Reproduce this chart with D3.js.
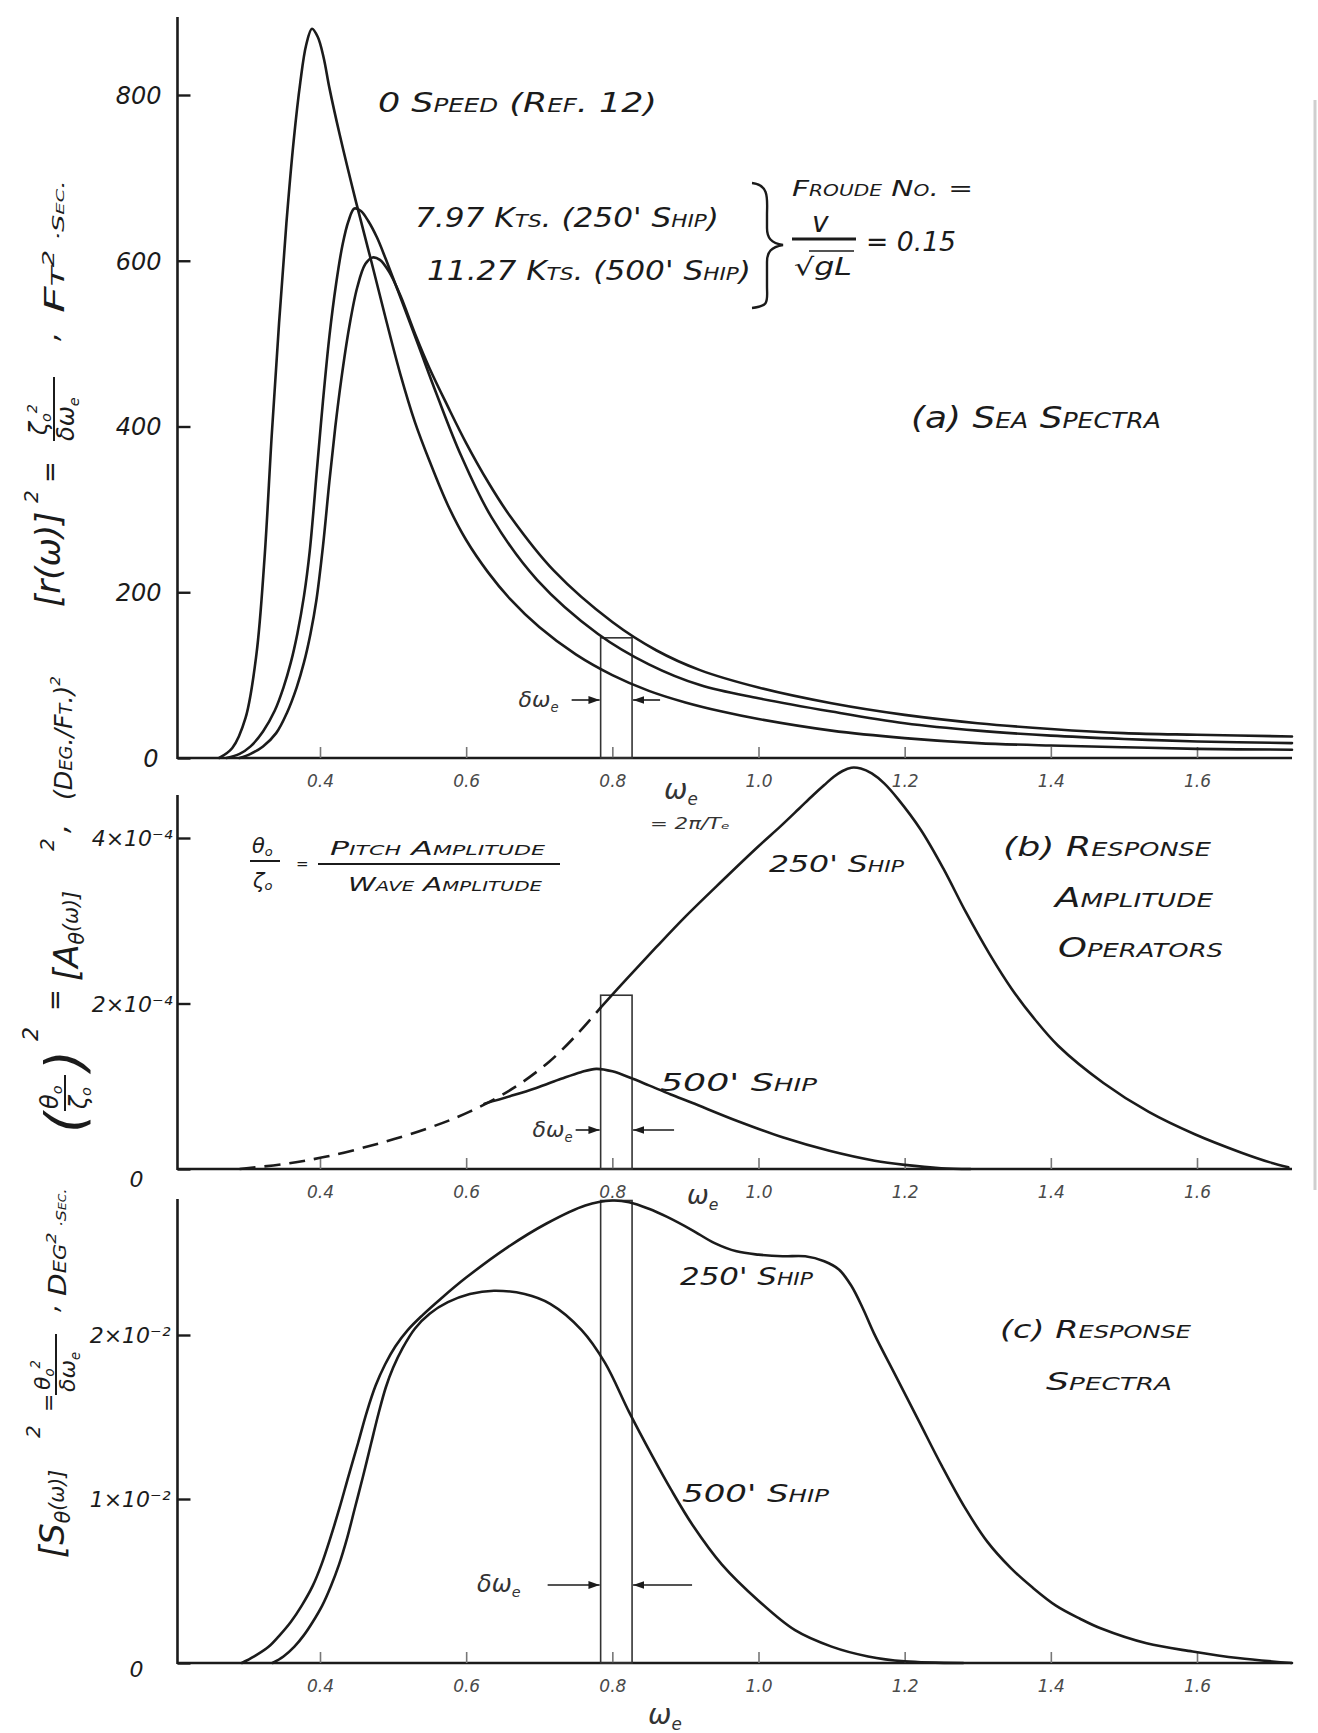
<!DOCTYPE html>
<html>
<head>
<meta charset="utf-8">
<script src="https://cdn.jsdelivr.net/npm/d3@7"></script>
<style>
  body { margin: 0; background: #fff; }
  svg text { font-family: "DejaVu Sans", sans-serif; font-style: italic; }
  .sc { font-variant: small-caps; }
</style>
</head>
<body>
<div id="chart"></div>
<script>
// encounter frequency axis, shared by all three panels
const xTicks = [0.4, 0.6, 0.8, 1.0, 1.2, 1.4, 1.6];
const xTickLabels = ["0.4", "0.6", "0.8", "1.0", "1.2", "1.4", "1.6"];
const deltaBand = [0.784, 0.827];

// (a) sea spectra, ft^2-sec
const seaTicks = [0, 200, 400, 600, 800];
const seaTickLabels = ["0", "200", "400", "600", "800"];
const seaZeroSpeed = [[0.262, 0], [0.28, 12], [0.298, 48], [0.313, 125], [0.324, 240], [0.334, 390], [0.344, 525], [0.354, 645], [0.364, 745], [0.373, 815], [0.381, 860], [0.389, 880], [0.397, 870], [0.405, 845], [0.413, 808], [0.427, 752], [0.449, 672], [0.47, 600], [0.49, 530], [0.51, 463], [0.53, 405], [0.55, 358], [0.575, 305], [0.6, 263], [0.63, 224], [0.66, 192], [0.7, 158], [0.75, 125], [0.8, 100], [0.85, 81], [0.9, 67], [0.95, 56], [1.0, 47], [1.1, 33], [1.2, 24], [1.3, 18], [1.4, 15], [1.5, 13], [1.6, 11], [1.73, 10]];
const sea250 = [[0.272, 0], [0.29, 5], [0.305, 14], [0.322, 32], [0.338, 57], [0.35, 85], [0.36, 115], [0.369, 150], [0.378, 195], [0.386, 250], [0.396, 350], [0.404, 430], [0.413, 510], [0.422, 572], [0.431, 620], [0.439, 648], [0.447, 663], [0.456, 660], [0.466, 648], [0.478, 628], [0.49, 602], [0.51, 556], [0.535, 497], [0.56, 438], [0.593, 365], [0.635, 290], [0.697, 215], [0.78, 150], [0.85, 113], [0.92, 88], [1.0, 72], [1.1, 56], [1.2, 42], [1.3, 33], [1.4, 27], [1.5, 23], [1.6, 20], [1.73, 18]];
const sea500 = [[0.29, 0], [0.305, 5], [0.322, 14], [0.34, 30], [0.355, 55], [0.368, 85], [0.378, 115], [0.387, 150], [0.395, 190], [0.404, 255], [0.413, 335], [0.421, 400], [0.429, 456], [0.44, 520], [0.451, 568], [0.462, 596], [0.472, 604], [0.482, 601], [0.495, 586], [0.51, 558], [0.53, 512], [0.55, 470], [0.575, 424], [0.6, 380], [0.63, 333], [0.66, 292], [0.72, 226], [0.8, 164], [0.86, 130], [0.92, 106], [1.0, 85], [1.1, 66], [1.2, 52], [1.3, 42], [1.4, 35], [1.5, 30], [1.6, 28], [1.73, 26]];
const seaBandTop = 145;

// (b) response amplitude operators, units of 1e-4 (deg/ft)^2
const raoTicks = [0, 2, 4];
const raoTickLabels = ["0", "2×10⁻⁴", "4×10⁻⁴"];
const rao250Dashed = [[0.29, 0], [0.35, 0.06], [0.409, 0.15], [0.481, 0.31], [0.55, 0.5], [0.604, 0.69], [0.665, 0.98], [0.714, 1.3], [0.751, 1.62], [0.784, 1.95]];
const rao250 = [[0.784, 1.95], [0.82, 2.3], [0.86, 2.68], [0.9, 3.05], [0.95, 3.48], [1.0, 3.9], [1.03, 4.14], [1.055, 4.35], [1.075, 4.52], [1.09, 4.64], [1.103, 4.74], [1.115, 4.81], [1.127, 4.85], [1.14, 4.84], [1.155, 4.78], [1.172, 4.66], [1.191, 4.47], [1.222, 4.1], [1.253, 3.63], [1.284, 3.1], [1.316, 2.6], [1.347, 2.17], [1.378, 1.81], [1.41, 1.49], [1.472, 1.04], [1.534, 0.69], [1.597, 0.42], [1.66, 0.2], [1.7, 0.08], [1.725, 0.02]];
const rao500 = [[0.625, 0.79], [0.66, 0.88], [0.696, 0.98], [0.73, 1.09], [0.757, 1.17], [0.778, 1.21], [0.8, 1.18], [0.828, 1.09], [0.85, 1.01], [0.88, 0.9], [0.909, 0.8], [0.971, 0.58], [1.034, 0.38], [1.097, 0.22], [1.159, 0.1], [1.2, 0.05], [1.25, 0.01], [1.29, 0]];
const raoBandTop = 2.1;

// (c) response spectra, units of 1e-2 deg^2-sec
const respTicks = [0, 1, 2];
const respTickLabels = ["0", "1×10⁻²", "2×10⁻²"];
const resp250 = [[0.293, 0], [0.31, 0.04], [0.33, 0.1], [0.345, 0.17], [0.36, 0.25], [0.375, 0.35], [0.39, 0.47], [0.402, 0.6], [0.414, 0.76], [0.427, 0.95], [0.439, 1.14], [0.452, 1.34], [0.464, 1.53], [0.476, 1.69], [0.489, 1.82], [0.503, 1.93], [0.52, 2.03], [0.54, 2.12], [0.565, 2.22], [0.6, 2.35], [0.655, 2.53], [0.71, 2.68], [0.763, 2.79], [0.8, 2.82], [0.823, 2.81], [0.85, 2.77], [0.875, 2.72], [0.909, 2.64], [0.94, 2.56], [0.97, 2.51], [1.0, 2.49], [1.033, 2.48], [1.064, 2.48], [1.09, 2.45], [1.11, 2.4], [1.127, 2.3], [1.143, 2.16], [1.158, 2.01], [1.189, 1.74], [1.22, 1.47], [1.251, 1.2], [1.282, 0.95], [1.313, 0.74], [1.345, 0.58], [1.375, 0.46], [1.407, 0.35], [1.44, 0.27], [1.469, 0.21], [1.531, 0.12], [1.594, 0.07], [1.656, 0.03], [1.73, 0]];
const resp500 = [[0.335, 0], [0.35, 0.04], [0.365, 0.1], [0.378, 0.17], [0.39, 0.25], [0.403, 0.35], [0.415, 0.47], [0.426, 0.6], [0.437, 0.76], [0.448, 0.95], [0.459, 1.14], [0.47, 1.34], [0.48, 1.52], [0.49, 1.68], [0.5, 1.8], [0.513, 1.92], [0.53, 2.04], [0.55, 2.13], [0.575, 2.2], [0.605, 2.25], [0.638, 2.27], [0.68, 2.25], [0.715, 2.19], [0.758, 2.03], [0.79, 1.83], [0.823, 1.53], [0.855, 1.26], [0.88, 1.06], [0.91, 0.84], [0.95, 0.6], [1.0, 0.38], [1.05, 0.2], [1.1, 0.1], [1.15, 0.04], [1.2, 0.01], [1.28, 0]];
const respBandTop = 2.82;

const ink = "#1b1b1b";
const xStart = 0.205, xEnd = 1.73;

const svg = d3.select("#chart").append("svg")
    .attr("width", 1318)
    .attr("height", 1733)
    .style("background", "#fff");

svg.append("defs").append("marker")
    .attr("id", "arrow")
    .attr("viewBox", "0 0 10 10")
    .attr("refX", 10).attr("refY", 5)
    .attr("markerWidth", 7).attr("markerHeight", 7)
    .attr("orient", "auto")
    .append("path").attr("d", "M0,1.5 L10,5 L0,8.5 z").attr("fill", ink);

const x = d3.scaleLinear().domain([0.4, 1.6]).range([320, 1197]);
const yA = d3.scaleLinear().domain([0, 800]).range([758, 95]);
const yB = d3.scaleLinear().domain([0, 4]).range([1169, 838]);
const yC = d3.scaleLinear().domain([0, 2]).range([1663, 1335]);

function drawFrame(y, yTop, ticks, labels, pad, zeroPad, zeroDy, fontSize) {
    const g = svg.append("g");
    g.append("line")
        .attr("x1", x(xStart)).attr("x2", x(xStart))
        .attr("y1", y(0) + 1).attr("y2", y(yTop))
        .attr("stroke", ink).attr("stroke-width", 2.6);
    g.append("line")
        .attr("x1", x(xStart)).attr("x2", x(xEnd))
        .attr("y1", y(0)).attr("y2", y(0))
        .attr("stroke", ink).attr("stroke-width", 2.4);

    const yAxis = d3.axisLeft(y).tickValues(ticks).tickSize(-13).tickPadding(pad)
        .tickFormat((d, i) => labels[i]);
    const gy = g.append("g").attr("transform", `translate(${x(xStart)},0)`).call(yAxis);
    gy.select(".domain").remove();
    gy.selectAll(".tick line").attr("stroke", ink).attr("stroke-width", 2.4);
    gy.selectAll(".tick text")
        .attr("font-size", fontSize)
        .attr("fill", ink)
        .attr("x", d => d === 0 ? -zeroPad : -pad)
        .attr("dy", d => d === 0 ? zeroDy : "0.35em");

    const xAxis = d3.axisBottom(x).tickValues(xTicks).tickSize(-11).tickPadding(17)
        .tickFormat((d, i) => xTickLabels[i]);
    const gx = g.append("g").attr("transform", `translate(0,${y(0)})`).call(xAxis);
    gx.select(".domain").remove();
    gx.selectAll(".tick line").attr("stroke", "#777").attr("stroke-width", 1.6);
    gx.selectAll(".tick text").attr("font-size", 17).attr("fill", "#4a4a4a");
    return g;
}

function drawCurve(y, data, dashed) {
    const line = d3.line()
        .x(d => x(d[0]))
        .y(d => y(d[1]))
        .curve(d3.curveCatmullRom.alpha(0.5));
    svg.append("path")
        .datum(data)
        .attr("d", line)
        .attr("fill", "none")
        .attr("stroke", ink)
        .attr("stroke-width", 2.6)
        .attr("stroke-linejoin", "round")
        .attr("stroke-linecap", dashed ? "butt" : "round")
        .attr("stroke-dasharray", dashed ? "16,9" : null);
}

function drawBand(y, top) {
    svg.append("rect")
        .attr("x", x(deltaBand[0]))
        .attr("y", y(top))
        .attr("width", x(deltaBand[1]) - x(deltaBand[0]))
        .attr("height", y(0) - y(top))
        .attr("fill", "none")
        .attr("stroke", "#333")
        .attr("stroke-width", 1.6);
}

// arrows pointing at the band edges, with the delta-omega label to the left
function bandArrows(yPos, lenL, lenR, textEnd, size) {
    const x0 = x(deltaBand[0]), x1 = x(deltaBand[1]);
    svg.append("line").attr("x1", x0 - lenL).attr("x2", x0 - 1).attr("y1", yPos).attr("y2", yPos)
        .attr("stroke", ink).attr("stroke-width", 1.6).attr("marker-end", "url(#arrow)");
    svg.append("line").attr("x1", x1 + lenR).attr("x2", x1 + 1).attr("y1", yPos).attr("y2", yPos)
        .attr("stroke", ink).attr("stroke-width", 1.6).attr("marker-end", "url(#arrow)");
    const t = svg.append("text").attr("x", x0 - textEnd).attr("y", yPos + 7)
        .attr("text-anchor", "end").attr("font-size", size).attr("fill", "#333");
    t.append("tspan").text("δω");
    t.append("tspan").attr("font-size", size * 0.6).attr("dy", 5).text("e");
}

function label(xPos, yPos, txt, size, width, cls) {
    const t = svg.append("text")
        .attr("x", xPos).attr("y", yPos)
        .attr("font-size", size)
        .attr("fill", ink)
        .attr("class", cls || "sc")
        .text(txt);
    if (width) t.attr("textLength", width).attr("lengthAdjust", "spacingAndGlyphs");
    return t;
}

// "(a) Sea Spectra" style titles: lowercase letter in brackets, rest in small caps
function panelTitle(xPos, yPos, letter, txt, size, width) {
    const t = svg.append("text")
        .attr("x", xPos).attr("y", yPos)
        .attr("font-size", size)
        .attr("fill", ink)
        .attr("textLength", width).attr("lengthAdjust", "spacingAndGlyphs");
    t.append("tspan").text(`(${letter}) `);
    t.append("tspan").attr("class", "sc").text(txt);
}

function omegaE(xPos, yPos, size) {
    const t = svg.append("text").attr("x", xPos).attr("y", yPos)
        .attr("font-size", size).attr("fill", "#333");
    t.append("tspan").text("ω");
    t.append("tspan").attr("font-size", size * 0.6).attr("dy", 6).text("e");
}

// ---- panel (a)
drawFrame(yA, 894, seaTicks, seaTickLabels, 16, 19, "0.35em", 24);
drawBand(yA, seaBandTop);
drawCurve(yA, seaZeroSpeed);
drawCurve(yA, sea250);
drawCurve(yA, sea500);
bandArrows(700, 29, 28, 42, 22);
omegaE(664, 799, 28);
label(650, 829, "= 2π/Tₑ", 16, 80, "none").attr("fill", "#333");

label(378, 112, "0  Speed  (Ref. 12)", 27, 279);
label(415, 227, "7.97 Kts. (250' Ship)", 26, 304);
label(427, 280, "11.27 Kts. (500' Ship)", 26, 324);
svg.append("path")
    .attr("d", "M752,183 C770,185 767,200 767,215 L767,228 C767,238 771,243 783,245 C771,247 767,252 767,262 L767,286 C767,301 770,306 752,308")
    .attr("fill", "none").attr("stroke", ink).attr("stroke-width", 2.4);
label(792, 196, "Froude No. =", 22, 181);
label(812, 232, "v", 28, null, "none");
svg.append("line").attr("x1", 792).attr("x2", 856).attr("y1", 239).attr("y2", 239)
    .attr("stroke", ink).attr("stroke-width", 3);
label(794, 275, "√gL", 24, 58, "none");
svg.append("line").attr("x1", 809).attr("x2", 854).attr("y1", 251).attr("y2", 251)
    .attr("stroke", ink).attr("stroke-width", 1.6);
label(866, 251, "= 0.15", 26, 90, "none");
panelTitle(911, 428, "a", "Sea Spectra", 30, 250);

// ---- panel (b)
drawFrame(yB, 4.52, raoTicks, raoTickLabels, 5, 34, "0.8em", 22);
drawBand(yB, raoBandTop);
drawCurve(yB, rao250Dashed, true);
drawCurve(yB, rao250);
drawCurve(yB, rao500);
bandArrows(1130, 25, 42, 28, 22);
omegaE(687, 1204, 26);

label(769, 872, "250' Ship", 23, 135);
label(660, 1091, "500' Ship", 25, 157);
panelTitle(1003, 856, "b", "Response", 27, 208);
label(1055, 907, "Amplitude", 27, 158);
label(1058, 957, "Operators", 27, 165);

// theta_o / zeta_o = pitch amplitude / wave amplitude
const th = label(252, 853, "θ", 21, null, "none");
th.append("tspan").attr("font-size", 13).attr("dy", 3).text("o");
svg.append("line").attr("x1", 250).attr("x2", 280).attr("y1", 861).attr("y2", 861)
    .attr("stroke", ink).attr("stroke-width", 2);
const ze = label(253, 888, "ζ", 21, null, "none");
ze.append("tspan").attr("font-size", 13).attr("dy", 2).text("o");
label(296, 869, "=", 15, null, "none");
label(330, 855, "Pitch Amplitude", 20, 215);
svg.append("line").attr("x1", 318).attr("x2", 560).attr("y1", 864).attr("y2", 864)
    .attr("stroke", ink).attr("stroke-width", 2);
label(348, 891, "Wave Amplitude", 20, 194);

// ---- panel (c)
drawFrame(yC, 2.83, respTicks, respTickLabels, 7, 34, "0.6em", 22);
drawBand(yC, respBandTop);
drawCurve(yC, resp250);
drawCurve(yC, resp500);
bandArrows(1585, 53, 60, 80, 24);
omegaE(648, 1724, 28);

label(680, 1285, "250' Ship", 24, 133);
label(682, 1502, "500' Ship", 25, 147);
panelTitle(1000, 1338, "c", "Response", 25, 191);
label(1046, 1390, "Spectra", 25, 126);

// ---- rotated y-axis titles
function rotGroup(px, py) {
    return svg.append("g").attr("transform", `translate(${px},${py}) rotate(-90)`);
}
function rt(g, xPos, yPos, size, parts, cls, width) {
    const t = g.append("text").attr("x", xPos).attr("y", yPos)
        .attr("font-size", size).attr("fill", ink);
    if (cls) t.attr("class", cls);
    if (width) t.attr("textLength", width).attr("lengthAdjust", "spacingAndGlyphs");
    parts.forEach(p => {
        const s = t.append("tspan").text(p[0]);
        if (p[1]) s.attr("font-size", size * 0.6).attr("dy", p[1]);
    });
    return t;
}
function bar(g, x1, x2, yPos) {
    g.append("line").attr("x1", x1).attr("x2", x2).attr("y1", yPos).attr("y2", yPos)
        .attr("stroke", ink).attr("stroke-width", 2);
}

// (a) [r(w)]^2 = zeta_o^2 / d(w_e) , ft^2-sec
const tA = rotGroup(60, 607);
rt(tA, 0, 0, 34, [["[r(ω)]"]]);
rt(tA, 104, -22, 20, [["2"]]);
rt(tA, 124, -1, 26, [["="]]);
rt(tA, 172, -13, 24, [["ζ"], ["o", 4], ["2", -14]]);
bar(tA, 166, 230, -6);
rt(tA, 166, 14, 24, [["δω"], ["e", 5]]);
rt(tA, 266, -2, 28, [[","]]);
rt(tA, 294, 4, 26, [["Ft"], ["2", -10], [" ·Sec.", 10]], "sc", 133);

// (b) (theta_o/zeta_o)^2 = [A_theta(w)]^2 , (deg./ft.)^2
const tB = rotGroup(78, 1133);
rt(tB, 0, 6, 54, [["("]]);
rt(tB, 24, -20, 24, [["θ"], ["o", 4]]);
bar(tB, 22, 58, -13);
rt(tB, 24, 9, 24, [["ζ"], ["o", 4]]);
rt(tB, 62, 6, 54, [[")"]]);
rt(tB, 92, -40, 22, [["2"]]);
rt(tB, 122, -14, 26, [["="]]);
rt(tB, 152, 0, 34, [["[A"], ["θ", 6], ["(ω)]", -6]]);
rt(tB, 282, -24, 20, [["2"]]);
rt(tB, 300, -10, 28, [[","]]);
rt(tB, 333, -6, 24, [["(Deg./Ft.)"], ["2", -12]], "sc", 124);

// (c) [S_theta(w)]^2 = theta_o^2 / d(w_e) , deg^2-sec
const tC = rotGroup(64, 1558);
rt(tC, 0, 0, 34, [["[S"], ["θ", 6], ["(ω)]", -6]]);
rt(tC, 120, -24, 20, [["2"]]);
rt(tC, 146, -8, 22, [["="]]);
rt(tC, 168, -14, 22, [["θ"], ["o", 4], ["2", -14]]);
bar(tC, 163, 224, -8);
rt(tC, 166, 11, 22, [["δω"], ["e", 5]]);
rt(tC, 246, -6, 26, [[","]]);
rt(tC, 262, 2, 24, [["Deg"], ["2", -10], [" ·Sec.", 10]], "sc", 108);

// scanned page edge on the right
svg.append("line").attr("x1", 1315).attr("x2", 1315).attr("y1", 100).attr("y2", 1190)
    .attr("stroke", "#cfcfcf").attr("stroke-width", 3);
</script>
</body>
</html>
